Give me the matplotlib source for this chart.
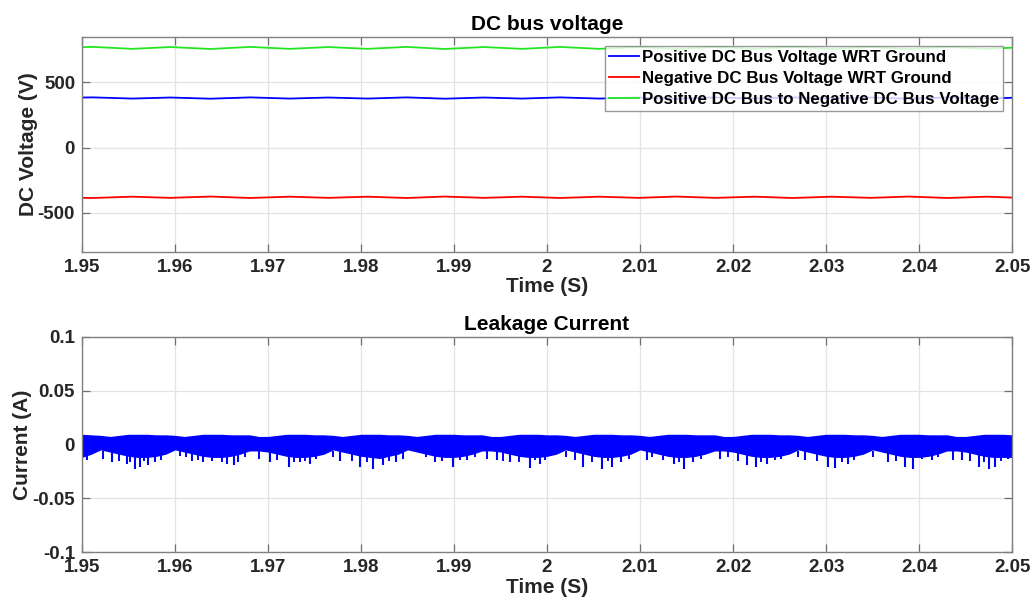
# DC bus voltage and leakage current, 1.95 s to 2.05 s
import matplotlib
matplotlib.use('Agg')
import matplotlib.pyplot as plt
import numpy as np

plt.rcParams['font.family'] = ['Liberation Sans', 'DejaVu Sans']
plt.rcParams['font.weight'] = 'bold'

# bus voltages: ripple peaks / troughs
t_v = [1.9500, 1.9512, 1.9554, 1.9595, 1.9638, 1.9681, 1.9723, 1.9765, 1.9807,
       1.9849, 1.9890, 1.9932, 1.9973, 2.0014, 2.0056, 2.0098, 2.0139, 2.0181,
       2.0223, 2.0264, 2.0306, 2.0348, 2.0389, 2.0431, 2.0473, 2.0500]
v_pos = [384, 385, 376, 384, 375, 385, 376, 384, 376, 385, 375, 384, 376,
         385, 376, 384, 375, 384, 376, 385, 376, 384, 375, 385, 376, 382]
v_neg = [-385, -386, -376, -385, -375, -386, -376, -385, -376, -386, -375, -385, -376,
         -386, -376, -385, -375, -385, -376, -386, -376, -385, -375, -386, -376, -383]
v_bus = [770, 772, 757, 771, 756, 772, 757, 771, 757, 772, 756, 771, 757,
         772, 757, 771, 756, 771, 757, 772, 757, 771, 756, 772, 757, 766]

# leakage current: band edges every 1 ms
t_i = np.round(np.arange(1.950, 2.0505, 0.001), 3)
i_hi = [0.0095, 0.009, 0.0085, 0.0075, 0.0085, 0.0095, 0.0095, 0.0095, 0.009, 0.009,
        0.0085, 0.0075, 0.0085, 0.0095, 0.0095, 0.0095, 0.009, 0.009, 0.009, 0.0075,
        0.0075, 0.0085, 0.0095, 0.0095, 0.0095, 0.009, 0.009, 0.0085, 0.0075, 0.0085,
        0.0095, 0.0095, 0.0095, 0.009, 0.009, 0.0085, 0.0075, 0.0085, 0.0095, 0.0095,
        0.0095, 0.009, 0.009, 0.009, 0.0075, 0.0075, 0.0085, 0.0095, 0.0095, 0.0095,
        0.009, 0.009, 0.0085, 0.0075, 0.0085, 0.0095, 0.0095, 0.0095, 0.009, 0.009,
        0.0085, 0.0075, 0.0085, 0.0095, 0.0095, 0.0095, 0.009, 0.009, 0.009, 0.0075,
        0.0075, 0.0085, 0.0095, 0.0095, 0.0095, 0.009, 0.009, 0.0085, 0.0075, 0.0085,
        0.0095, 0.0095, 0.0095, 0.009, 0.009, 0.0085, 0.0075, 0.0085, 0.0095, 0.0095,
        0.0095, 0.009, 0.009, 0.009, 0.0075, 0.0075, 0.0085, 0.0095, 0.0095, 0.0095,
        0.009]
i_lo = [-0.012, -0.009, -0.005, -0.007, -0.009, -0.011, -0.012, -0.012, -0.011, -0.009,
        -0.005, -0.007, -0.009, -0.011, -0.012, -0.012, -0.011, -0.009, -0.006, -0.006,
        -0.007, -0.009, -0.011, -0.012, -0.012, -0.011, -0.009, -0.005, -0.007, -0.009,
        -0.011, -0.012, -0.013, -0.011, -0.009, -0.005, -0.007, -0.009, -0.011, -0.012,
        -0.012, -0.011, -0.009, -0.006, -0.006, -0.007, -0.009, -0.011, -0.012, -0.012,
        -0.011, -0.009, -0.005, -0.007, -0.009, -0.011, -0.012, -0.012, -0.011, -0.009,
        -0.005, -0.007, -0.009, -0.011, -0.012, -0.012, -0.011, -0.009, -0.006, -0.006,
        -0.007, -0.009, -0.011, -0.012, -0.012, -0.011, -0.009, -0.005, -0.007, -0.009,
        -0.011, -0.012, -0.012, -0.011, -0.009, -0.005, -0.007, -0.009, -0.011, -0.012,
        -0.012, -0.011, -0.009, -0.006, -0.006, -0.007, -0.009, -0.011, -0.012, -0.012,
        -0.012]

# deep downward spikes below the band
spike_t = [1.9532, 1.9548, 1.9557, 1.9562, 1.9571, 1.9578, 1.9618, 1.9630, 1.9656, 1.9663,
           1.9668, 1.9702, 1.9722, 1.9734, 1.9745, 1.9777, 1.9799, 1.9813, 1.9824, 1.9838,
           1.9880, 1.9899, 1.9914, 1.9946, 1.9960, 1.9982, 1.9992, 1.9998, 2.0039, 2.0059,
           2.0070, 2.0079, 2.0107, 2.0136, 2.0147, 2.0157, 2.0186, 2.0215, 2.0225, 2.0236,
           2.0252, 2.0277, 2.0302, 2.0310, 2.0324, 2.0367, 2.0385, 2.0394, 2.0414, 2.0446,
           2.0464, 2.0475, 2.0482, 2.0496]
spike_v = [-0.016, -0.0177, -0.0223, -0.021, -0.019, -0.016, -0.015, -0.016, -0.018, -0.019,
           -0.016, -0.016, -0.0208, -0.016, -0.0177, -0.015, -0.0208, -0.0223, -0.019, -0.016,
           -0.016, -0.0208, -0.0146, -0.0146, -0.016, -0.022, -0.0177, -0.0146, -0.0208, -0.0223,
           -0.0208, -0.016, -0.0146, -0.0177, -0.0223, -0.016, -0.013, -0.0192, -0.0208, -0.0177,
           -0.013, -0.0146, -0.0208, -0.0215, -0.0177, -0.016, -0.0208, -0.0223, -0.0146, -0.0146,
           -0.0208, -0.0223, -0.0208, -0.013]

# shallower spikes that roughen the lower edge
small_t = [1.9505, 1.9522, 1.9540, 1.9552, 1.9567, 1.9585, 1.9605, 1.9612, 1.9625, 1.9640,
           1.9650, 1.9675, 1.9690, 1.9710, 1.9728, 1.9740, 1.9752, 1.9770, 1.9790, 1.9806,
           1.9830, 1.9845, 1.9870, 1.9887, 1.9906, 1.9922, 1.9935, 1.9953, 1.9970, 1.9987,
           2.0020, 2.0030, 2.0048, 2.0065, 2.0088, 2.0113, 2.0125, 2.0142, 2.0165, 2.0195,
           2.0205, 2.0230, 2.0245, 2.0270, 2.0290, 2.0317, 2.0330, 2.0350, 2.0375, 2.0403,
           2.0420, 2.0437, 2.0455, 2.0470, 2.0488]
small_v = [-0.014, -0.013, -0.015, -0.016, -0.015, -0.014, -0.011, -0.012, -0.014, -0.015,
           -0.016, -0.012, -0.013, -0.014, -0.016, -0.015, -0.013, -0.012, -0.015, -0.016,
           -0.015, -0.013, -0.012, -0.015, -0.014, -0.012, -0.013, -0.015, -0.016, -0.014,
           -0.012, -0.014, -0.016, -0.015, -0.013, -0.012, -0.014, -0.016, -0.013, -0.012,
           -0.015, -0.016, -0.014, -0.012, -0.015, -0.016, -0.014, -0.012, -0.015, -0.013,
           -0.012, -0.014, -0.015, -0.016, -0.015]

xticks = [1.95, 1.96, 1.97, 1.98, 1.99, 2.0, 2.01, 2.02, 2.03, 2.04, 2.05]
xticklabels = ['1.95', '1.96', '1.97', '1.98', '1.99', '2', '2.01', '2.02', '2.03', '2.04', '2.05']

fig = plt.figure(figsize=(10.36, 6.09), dpi=100)
ax1 = fig.add_axes([0.0792, 0.5862, 0.8977, 0.3535])
ax2 = fig.add_axes([0.0792, 0.0931, 0.8977, 0.3540])

ax1.plot(t_v, v_pos, color='#0000FF', lw=1.3, label='Positive DC Bus Voltage WRT Ground')
ax1.plot(t_v, v_neg, color='#FF0000', lw=1.3, label='Negative DC Bus Voltage WRT Ground')
ax1.plot(t_v, v_bus, color='#22E622', lw=1.3, label='Positive DC Bus to Negative DC Bus Voltage')
ax1.set_ylim(-800, 850)
ax1.set_yticks([-500, 0, 500])
ax1.set_yticklabels(['-500', '0', '500'])
ax1.set_ylabel('DC Voltage (V)', fontsize=15, fontweight='bold', color='#262626', labelpad=0)
ax1.set_title('DC bus voltage', fontsize=15, fontweight='bold', pad=5)
leg = ax1.legend(loc='upper right', bbox_to_anchor=(0.9903, 0.958), borderaxespad=0,
                 fontsize=12.2, frameon=True, fancybox=False, handlelength=1.75,
                 handletextpad=0.15, labelspacing=0.34, borderpad=0.25)
leg.get_frame().set_edgecolor('#808080')
leg.get_frame().set_linewidth(1.0)
for txt in leg.get_texts():
    txt.set_fontweight('bold')

ax2.fill_between(t_i, i_lo, i_hi, color='#0000FF', lw=0)
ax2.vlines(spike_t, -0.006, spike_v, color='#0000FF', lw=1.5)
ax2.vlines(small_t, -0.006, small_v, color='#0000FF', lw=1.4)
ax2.set_ylim(-0.1, 0.1)
ax2.set_yticks([-0.1, -0.05, 0, 0.05, 0.1])
ax2.set_yticklabels(['-0.1', '-0.05', '0', '0.05', '0.1'])
ax2.set_ylabel('Current (A)', fontsize=15, fontweight='bold', color='#262626', labelpad=0)
ax2.set_title('Leakage Current', fontsize=15, fontweight='bold', pad=5)

for ax in (ax1, ax2):
    ax.set_xlim(1.95, 2.05)
    ax.set_xticks(xticks)
    ax.set_xticklabels(xticklabels)
    ax.set_xlabel('Time (S)', fontsize=15, fontweight='bold', color='#262626', labelpad=1)
    ax.grid(True, color='#E3E3E3', lw=0.9)
    ax.set_axisbelow(True)
    ax.tick_params(direction='in', length=6, width=0.9, color='#707070',
                   top=True, right=True, labelsize=13.5, labelcolor='#262626', pad=5)
    for lab in ax.get_xticklabels() + ax.get_yticklabels():
        lab.set_fontweight('bold')
    for sp in ax.spines.values():
        sp.set_color('#808080')
        sp.set_linewidth(1.0)

fig.savefig('out.png', dpi=100)
